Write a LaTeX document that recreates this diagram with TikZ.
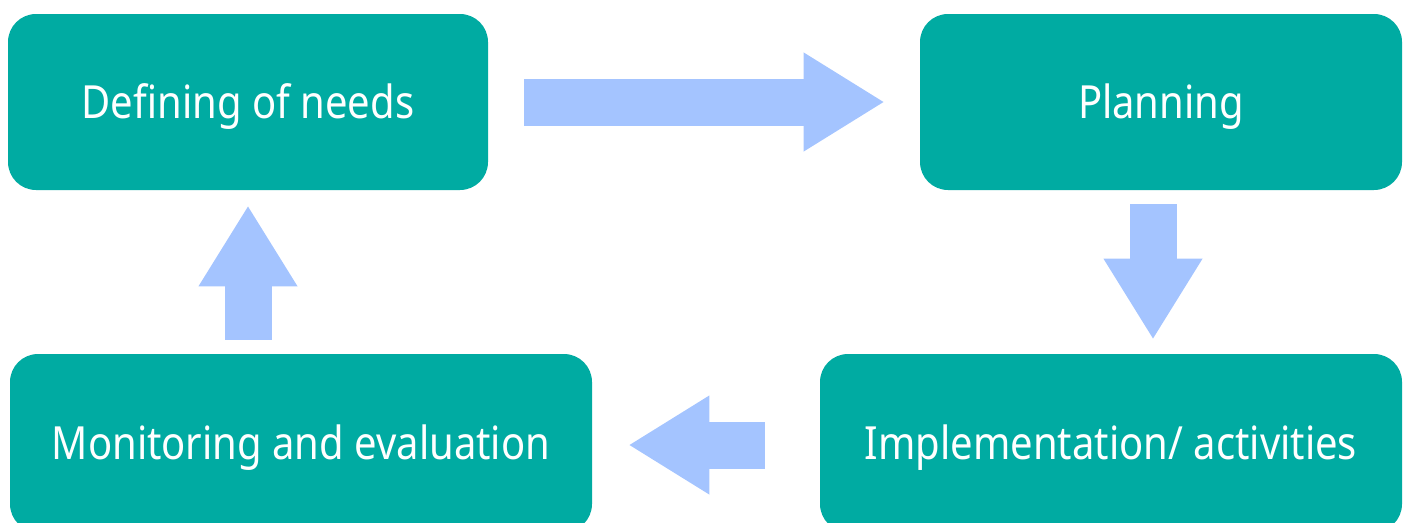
\documentclass[tikz,border=0pt]{standalone}
\usepackage{fontspec}
\setmainfont[FakeStretch=0.875]{Noto Sans}
\definecolor{boxteal}{RGB}{0, 171, 162}
\definecolor{flowblue}{RGB}{164, 196, 255}
\usetikzlibrary{arrows.meta, positioning, calc}

\begin{document}
\begin{tikzpicture}[
    stage/.style={fill=boxteal, rounded corners=0.56cm, text=white, align=center,
      font=\fontsize{26}{30}\selectfont, inner sep=0pt, text height=0.7cm, text depth=0.06cm},
    flow/.style={flowblue, line width=0.94cm,
      -{Triangle[length=1.62cm, width=1.86cm]}}
  ]
  \useasboundingbox (0,0) rectangle (28.14,-10.44);

  % Stages of the cycle
  \node[stage, minimum width=9.6cm, minimum height=3.52cm] (needs) at (4.96,-2.04) {Defining of needs};
  \node[stage, minimum width=9.64cm, minimum height=3.52cm] (plan) at (23.22,-2.04) {Planning};
  \node[stage, minimum width=11.64cm, minimum height=3.56cm] (impl) at (22.22,-8.86) {Implementation/ activities};
  \node[stage, minimum width=11.64cm, minimum height=3.56cm] (mon) at (6.02,-8.86) {Monitoring and evaluation};

  % Block arrows between stages
  \draw[flow] ([xshift=0.72cm]needs.east) -- ([xshift=-0.7cm]plan.west);
  \draw[flow] ([shift={(-0.16,-0.28)}]plan.south) coordinate (dtop) -- ([yshift=0.28cm]dtop |- impl.north);
  \draw[flow] ([shift={(-1.1,-0.04)}]impl.west) coordinate (lstart) -- ([xshift=0.72cm]lstart -| mon.east);
  \draw[flow] ([yshift=0.28cm]needs.south |- mon.north) -- ([yshift=-0.3cm]needs.south);
\end{tikzpicture}
\end{document}
